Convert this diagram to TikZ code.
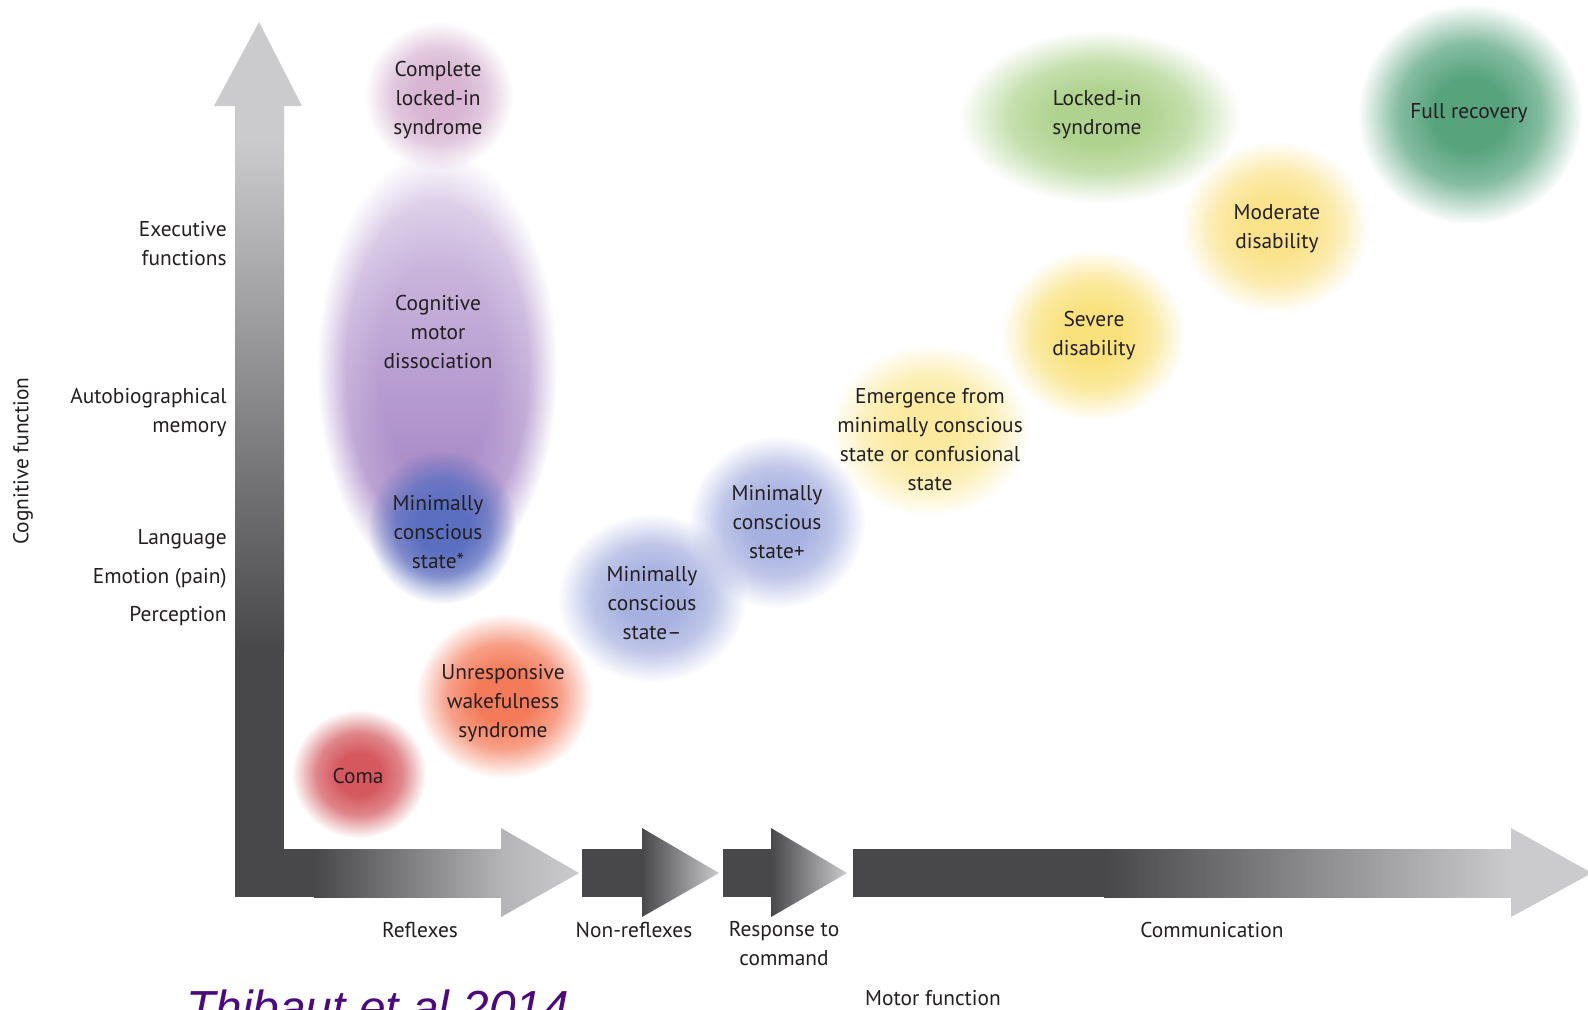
\documentclass[tikz,border=0pt]{standalone}
\usepackage{fontspec}
\setmainfont{PT Sans}
\newfontfamily\citefont{Liberation Sans}
\usetikzlibrary{fadings}
\pgfdeclareradialshading{blobfadeshading}{\pgfpointorigin}{color(0bp)=(white); color(8bp)=(white); color(16bp)=(black!28); color(25bp)=(black); color(50bp)=(black)}
\pgfdeclarefading{blobfade}{\pgfuseshading{blobfadeshading}}
\pgfdeclareradialshading{widefadeshading}{\pgfpointorigin}{color(0bp)=(white); color(12bp)=(white); color(19bp)=(black!22); color(25bp)=(black); color(50bp)=(black)}
\pgfdeclarefading{widefade}{\pgfuseshading{widefadeshading}}
\definecolor{txt}{HTML}{231F20}
\definecolor{dark}{HTML}{48484B}
\definecolor{light}{HTML}{CBCBCD}
\definecolor{mid}{HTML}{B4B4B7}
\definecolor{comacol}{HTML}{D4585E}
\definecolor{uwscol}{HTML}{F47B5A}
\definecolor{mcsstar}{HTML}{5A6FC0}
\definecolor{mcspm}{HTML}{A7B1E0}
\definecolor{cmdtop}{HTML}{DCCDE8}
\definecolor{cmdbot}{HTML}{9773BC}
\definecolor{clis}{HTML}{D7B5D3}
\definecolor{emerg}{HTML}{FBEA9E}
\definecolor{severe}{HTML}{F9E27C}
\definecolor{moder}{HTML}{FAE38A}
\definecolor{liscol}{HTML}{AFD38F}
\definecolor{frcol}{HTML}{56A37C}
\definecolor{citecol}{HTML}{4C0A80}
\begin{document}
\begin{tikzpicture}[x=0.5pt,y=-0.5pt,
  lbl/.style={font=\fontsize{10.7}{14.5}\selectfont, text=txt, align=center, inner sep=0pt},
  rlbl/.style={lbl, align=right, anchor=east},
  blob/.style={path fading=blobfade},
  wideblob/.style={path fading=widefade}]
\useasboundingbox (0,0) rectangle (1588,1009);
\clip (0,0) rectangle (1588,1009);
\fill[white] (0,0) rectangle (1588,1009);

% ---- blobs ----
\shade[top color=cmdtop, bottom color=cmdbot, wideblob] (437,368) ellipse [x radius=120, y radius=218];
\fill[clis, blob] (439,96) ellipse [x radius=74, y radius=74];
\fill[mcsstar, blob] (442,527) ellipse [x radius=74, y radius=77];
\fill[comacol, blob] (359,774) ellipse [x radius=67, y radius=64];
\fill[uwscol, blob] (504,696) ellipse [x radius=88, y radius=82];
\fill[mcspm, blob] (652,598) ellipse [x radius=94, y radius=84];
\fill[mcspm, blob] (777,522) ellipse [x radius=88, y radius=86];
\fill[emerg, blob] (930,430) ellipse [x radius=100, y radius=86];
\fill[severe, blob] (1093,335) ellipse [x radius=92, y radius=85];
\fill[moder, blob] (1275,227) ellipse [x radius=94, y radius=86];
\fill[liscol, blob] (1100,117) ellipse [x radius=140, y radius=86];
\fill[frcol, blob] (1470,114) ellipse [x radius=112, y radius=110];

% ---- vertical axis arrow ----
\fill[light] (235,140) -- (235,106) -- (214,106) -- (259,22) -- (302,106) -- (284,106) -- (284,140) -- cycle;
\shade[top color=light, bottom color=dark] (235,139) rectangle (284,651);
\fill[dark] (235,650) rectangle (284,897);
% ---- horizontal arrow 1 ----
\fill[dark] (235,849) rectangle (315,897);
\shade[left color=dark, right color=mid] (314,849) rectangle (502,897);
\shade[left color=mid, right color=light] (501,849) -- (501,828) -- (579,873) -- (501,917) -- (501,897) -- cycle;
% ---- arrow 2 ----
\fill[dark] (582,849) rectangle (643,897);
\shade[left color=dark, right color=light] (642,849) -- (642,828) -- (719,873) -- (642,917) -- (642,897) -- cycle;
% ---- arrow 3 ----
\fill[dark] (723,849) rectangle (772,897);
\shade[left color=dark, right color=light] (771,849) -- (771,828) -- (847,873) -- (771,917) -- (771,897) -- cycle;
% ---- arrow 4 ----
\fill[dark] (853,849) rectangle (1105,897);
\shade[left color=dark, right color=light] (1104,849) rectangle (1512,897);
\fill[light] (1511,849) -- (1511,828) -- (1592,873) -- (1511,917) -- (1511,897) -- cycle;

% ---- state labels ----
\node[lbl] (clisl) at (438,100) {Complete\\locked-in\\syndrome};
\node[lbl] (cmdl) at (438,332) {Cognitive\\motor\\dissociation};
\node[lbl] (mcsstarl) at (438,532) {Minimally\\conscious\\state*};
\node[lbl] (comal) at (358,776) {Coma};
\node[lbl] (uwsl) at (503,703) {Unresponsive\\wakefulness\\syndrome};
\node[lbl] (mcsminl) at (652,603) {Minimally\\conscious\\state–};
\node[lbl] (mcsplusl) at (777,522) {Minimally\\conscious\\state+};
\node[lbl] (emergl) at (930,440) {Emergence from\\minimally conscious\\state or confusional\\state};
\node[lbl] (severel) at (1094,336) {Severe\\disability};
\node[lbl] (moderl) at (1277,229) {Moderate\\disability};
\node[lbl] (lisl) at (1097,115) {Locked-in\\syndrome};
\node[lbl] (frl) at (1469,113) {Full recovery};

% ---- axis labels ----
\node[rlbl] (exec) at (227,244) {Executive\\functions};
\node[rlbl] (auto) at (227,413) {Autobiographical\\memory};
\node[rlbl] (lang) at (227,539) {Language};
\node[rlbl] (emot) at (227,578) {Emotion (pain)};
\node[rlbl] (perc) at (227,616) {Perception};
\node[lbl, rotate=90] (cogf) at (23,461) {Cognitive function};

\node[lbl] (refl) at (420,930) {Reflexes};
\node[lbl] (nonrefl) at (634,930) {Non-reflexes};
\node[lbl] (resp) at (784,944) {Response to\\command};
\node[lbl] (comm) at (1212,930) {Communication};
\node[lbl] (motor) at (933,998) {Motor function};

\node[font=\citefont\itshape\fontsize{23.9}{28}\selectfont, text=citecol, anchor=base west, inner sep=0pt] (cite) at (186,1024) {Thibaut et al 2014};
\end{tikzpicture}
\end{document}
